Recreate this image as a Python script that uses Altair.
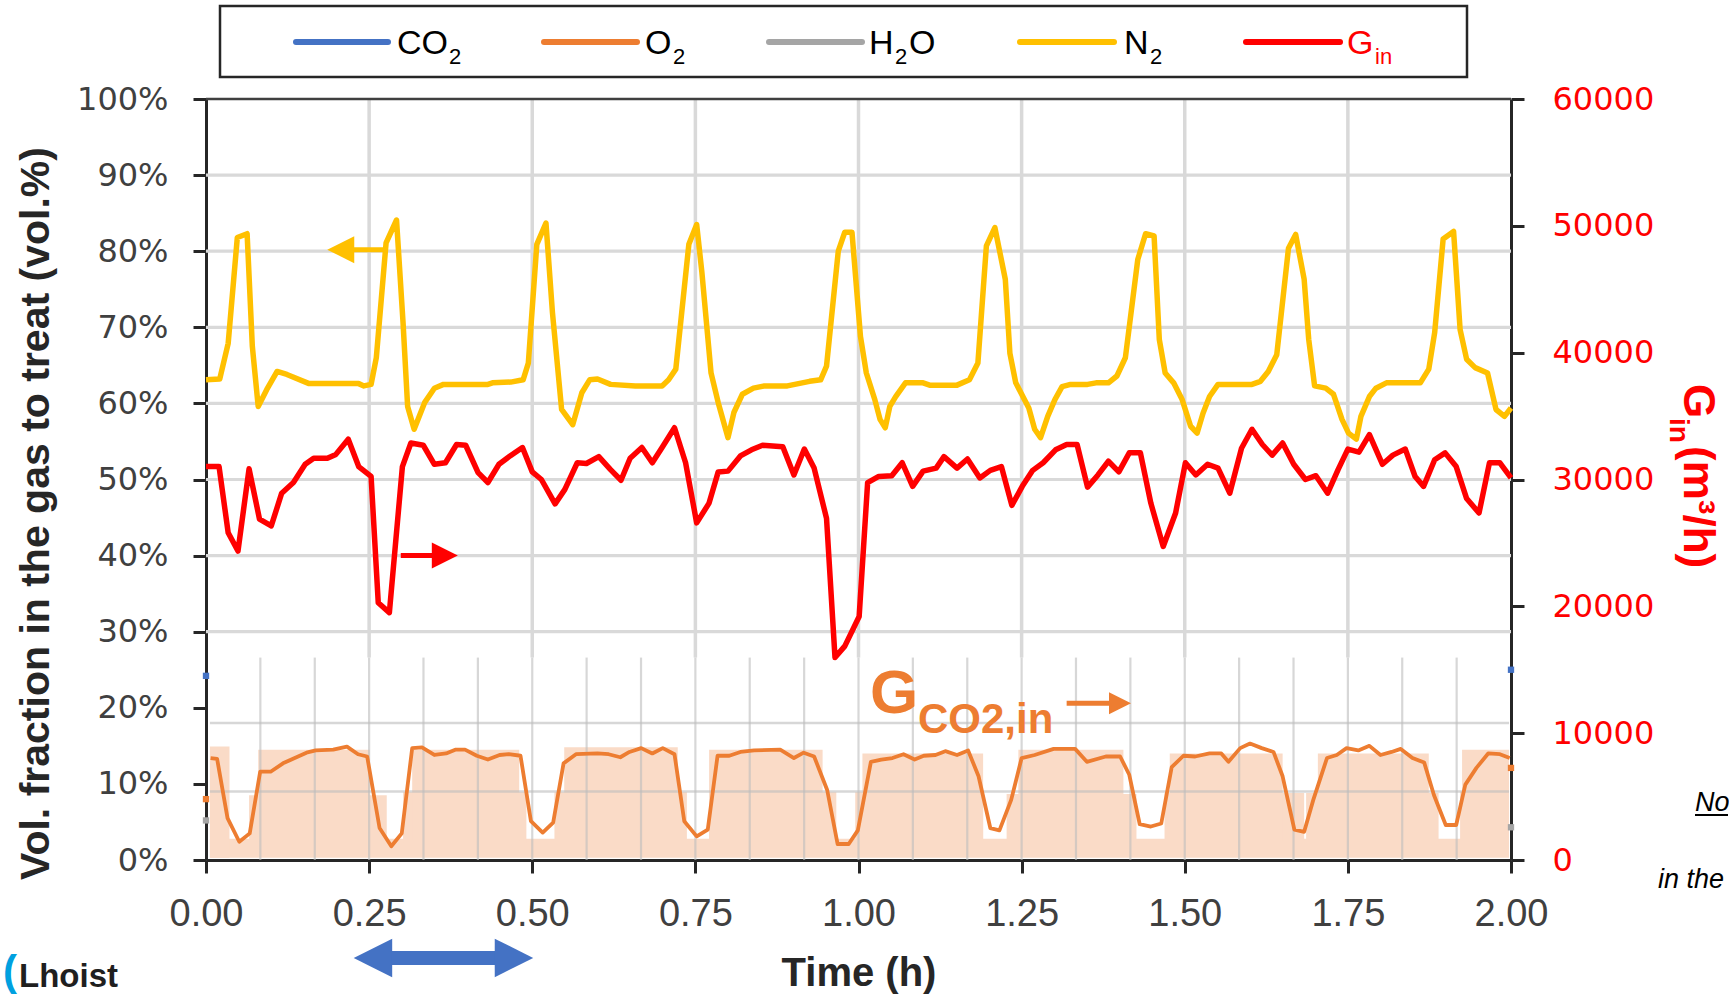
import altair as alt
import pandas as pd

# ---------------- data ----------------
# N2 volume fraction (%), (time h, value)
N2_POINTS = [
    (0.000, 63.1), (0.021, 63.2), (0.034, 67.9), (0.048, 81.8), (0.063, 82.3), (0.071, 67.5),
    (0.080, 59.6), (0.093, 61.8), (0.109, 64.2), (0.124, 63.8), (0.158, 62.6), (0.234, 62.6),
    (0.242, 62.3), (0.253, 62.5), (0.261, 66.0), (0.276, 81.1), (0.292, 84.1), (0.302, 70.6),
    (0.309, 59.6), (0.319, 56.6), (0.335, 60.1), (0.350, 62.0), (0.364, 62.5), (0.432, 62.5),
    (0.439, 62.7), (0.467, 62.8), (0.486, 63.1), (0.494, 65.3), (0.507, 80.9), (0.521, 83.7),
    (0.531, 71.9), (0.545, 59.2), (0.562, 57.2), (0.576, 61.4), (0.588, 63.1), (0.600, 63.2),
    (0.620, 62.5), (0.658, 62.3), (0.699, 62.3), (0.709, 63.1), (0.720, 64.5), (0.740, 80.9),
    (0.752, 83.5), (0.760, 77.2), (0.774, 64.0), (0.785, 60.1), (0.800, 55.5), (0.809, 58.8),
    (0.822, 61.2), (0.839, 62.0), (0.856, 62.3), (0.891, 62.3), (0.925, 62.9), (0.942, 63.1),
    (0.951, 64.9), (0.969, 80.0), (0.979, 82.5), (0.990, 82.5), (1.003, 68.8), (1.012, 64.0),
    (1.025, 60.5), (1.033, 57.9), (1.041, 56.8), (1.048, 59.6), (1.057, 60.9), (1.072, 62.7),
    (1.099, 62.7), (1.109, 62.4), (1.151, 62.4), (1.170, 63.1), (1.183, 65.3), (1.196, 80.7),
    (1.209, 83.1), (1.225, 76.3), (1.232, 66.6), (1.241, 62.7), (1.261, 59.4), (1.270, 56.6),
    (1.279, 55.5), (1.290, 58.3), (1.301, 60.5), (1.312, 62.2), (1.325, 62.5), (1.351, 62.5),
    (1.364, 62.7), (1.383, 62.7), (1.396, 63.6), (1.409, 66.0), (1.428, 78.9), (1.440, 82.3),
    (1.453, 82.0), (1.461, 68.4), (1.470, 64.0), (1.483, 62.7), (1.496, 60.5), (1.509, 57.0),
    (1.519, 56.1), (1.528, 58.7), (1.538, 60.9), (1.551, 62.5), (1.603, 62.5), (1.616, 62.9),
    (1.628, 64.2), (1.641, 66.4), (1.659, 80.4), (1.670, 82.2), (1.683, 76.3), (1.690, 68.4),
    (1.699, 62.3), (1.716, 62.0), (1.728, 61.2), (1.741, 57.9), (1.751, 56.1), (1.763, 55.3),
    (1.770, 58.3), (1.783, 60.9), (1.793, 62.0), (1.809, 62.7), (1.861, 62.7), (1.874, 64.5),
    (1.883, 69.3), (1.896, 81.6), (1.912, 82.6), (1.922, 69.7), (1.932, 65.8), (1.945, 64.7),
    (1.964, 64.0), (1.977, 59.2), (1.990, 58.3), (2.000, 59.4),
]

# G_in gas flow (m3/h), (time h, value)
GIN_POINTS = [
    (0.000, 31020), (0.020, 31020), (0.034, 25800), (0.049, 24360), (0.066, 30840), (0.082, 26880),
    (0.100, 26340), (0.116, 28920), (0.134, 29760), (0.152, 31200), (0.165, 31680), (0.186, 31680),
    (0.199, 31980), (0.218, 33180), (0.234, 31020), (0.253, 30240), (0.264, 20280), (0.281, 19500),
    (0.301, 31020), (0.314, 32880), (0.333, 32700), (0.350, 31200), (0.367, 31320), (0.384, 32760),
    (0.398, 32700), (0.417, 30540), (0.432, 29760), (0.449, 31200), (0.466, 31860), (0.485, 32520),
    (0.500, 30600), (0.514, 30000), (0.535, 28080), (0.550, 29220), (0.569, 31320), (0.583, 31260),
    (0.602, 31800), (0.620, 30780), (0.636, 29940), (0.650, 31680), (0.668, 32520), (0.684, 31320),
    (0.699, 32520), (0.718, 34080), (0.735, 31320), (0.752, 26580), (0.771, 28140), (0.785, 30600),
    (0.800, 30660), (0.819, 31860), (0.836, 32340), (0.853, 32700), (0.884, 32580), (0.901, 30360),
    (0.917, 32400), (0.932, 30900), (0.951, 26940), (0.964, 15960), (0.979, 16860), (1.001, 19200),
    (1.014, 29760), (1.031, 30240), (1.051, 30300), (1.067, 31320), (1.083, 29460), (1.099, 30660),
    (1.119, 30900), (1.131, 31800), (1.151, 30900), (1.167, 31620), (1.186, 30120), (1.202, 30720),
    (1.219, 31020), (1.235, 27960), (1.251, 29460), (1.267, 30720), (1.283, 31320), (1.302, 32340),
    (1.319, 32760), (1.335, 32760), (1.351, 29400), (1.367, 30360), (1.383, 31440), (1.399, 30600),
    (1.415, 32100), (1.432, 32100), (1.448, 28140), (1.467, 24720), (1.486, 27360), (1.501, 31320),
    (1.517, 30360), (1.535, 31200), (1.551, 30900), (1.569, 28920), (1.587, 32460), (1.603, 33960),
    (1.619, 32760), (1.634, 31920), (1.650, 32880), (1.667, 31200), (1.685, 30000), (1.701, 30300),
    (1.719, 28920), (1.735, 30780), (1.750, 32400), (1.767, 32160), (1.783, 33540), (1.803, 31200),
    (1.819, 31920), (1.838, 32400), (1.853, 30240), (1.866, 29460), (1.883, 31560), (1.899, 32100),
    (1.916, 31020), (1.932, 28500), (1.951, 27360), (1.967, 31320), (1.983, 31320), (2.000, 30120),
]

# G_CO2,in gas flow (m3/h), (time h, value)
GCO2_POINTS = [
    (0.007, 8040), (0.017, 7980), (0.033, 3300), (0.051, 1440), (0.067, 2100), (0.083, 6960),
    (0.099, 6960), (0.118, 7620), (0.136, 8040), (0.154, 8460), (0.168, 8640), (0.195, 8700),
    (0.216, 8940), (0.233, 8340), (0.247, 8160), (0.266, 2520), (0.284, 1080), (0.300, 2100),
    (0.316, 8820), (0.331, 8880), (0.350, 8280), (0.368, 8400), (0.382, 8700), (0.397, 8700),
    (0.415, 8220), (0.432, 7920), (0.450, 8280), (0.464, 8340), (0.482, 8220), (0.498, 3060),
    (0.516, 2160), (0.532, 2940), (0.548, 7620), (0.567, 8340), (0.600, 8400), (0.617, 8340),
    (0.635, 8100), (0.649, 8520), (0.667, 8820), (0.684, 8400), (0.700, 8820), (0.718, 8340),
    (0.733, 3060), (0.752, 1860), (0.769, 2400), (0.784, 8220), (0.802, 8220), (0.819, 8520),
    (0.840, 8640), (0.880, 8700), (0.901, 8040), (0.916, 8460), (0.932, 8160), (0.952, 5520),
    (0.968, 1260), (0.985, 1260), (0.999, 2340), (1.019, 7740), (1.035, 7920), (1.052, 8040),
    (1.069, 8340), (1.086, 7920), (1.100, 8220), (1.118, 8280), (1.133, 8580), (1.151, 8280),
    (1.168, 8640), (1.184, 6600), (1.202, 2520), (1.216, 2340), (1.234, 4740), (1.250, 8040),
    (1.270, 8280), (1.299, 8760), (1.332, 8760), (1.350, 7740), (1.379, 8160), (1.401, 8160),
    (1.415, 6720), (1.431, 2820), (1.448, 2640), (1.464, 2880), (1.480, 7320), (1.498, 8220),
    (1.516, 8160), (1.538, 8400), (1.556, 8400), (1.567, 7740), (1.585, 8820), (1.600, 9180),
    (1.618, 8820), (1.636, 8520), (1.650, 6600), (1.668, 2400), (1.683, 2220), (1.697, 4740),
    (1.718, 8040), (1.733, 8280), (1.748, 8820), (1.766, 8640), (1.783, 9000), (1.800, 8280),
    (1.817, 8520), (1.831, 8760), (1.849, 8040), (1.867, 7680), (1.882, 5100), (1.900, 2760),
    (1.916, 2760), (1.930, 5940), (1.947, 7260), (1.965, 8400), (1.983, 8340), (1.998, 8040),
]

# shaded blocks behind G_CO2,in: (start h, end h, low m3/h, high m3/h)
SHADE_BLOCKS = [
    (0.006, 1.997, 180, 1680),
    (0.066, 0.277, 1380, 5100), (0.302, 0.491, 1380, 5340), (0.534, 0.737, 1560, 5340),
    (0.771, 0.966, 1380, 5340), (0.995, 1.191, 1380, 5340), (1.227, 1.426, 1500, 5200),
    (1.469, 1.683, 1500, 5280), (1.686, 1.889, 1500, 5280), (1.922, 1.947, 1500, 5400),
    (0.006, 0.036, 180, 8940), (0.080, 0.251, 1560, 8700), (0.316, 0.480, 1560, 8700),
    (0.549, 0.723, 1680, 8880), (0.771, 0.945, 1560, 8700), (1.006, 1.191, 1560, 8400),
    (1.245, 1.406, 1560, 8700), (1.477, 1.650, 1560, 8400), (1.704, 1.874, 1560, 8400),
    (1.925, 1.997, 1560, 8700),
]

# the CO2 / O2 / H2O series are only visible at the two ends of the time axis (%)
EDGE_TIMES = [0.0, 2.0]
CO2_EDGE = [24.2, 25.0]
O2_EDGE = [8.0, 12.1]
H2O_EDGE = [5.2, 4.3]

X_TICKS = [0.0, 0.25, 0.5, 0.75, 1.0, 1.25, 1.5, 1.75, 2.0]
PCT_TICKS = [0, 10, 20, 30, 40, 50, 60, 70, 80, 90, 100]
GIN_TICKS = [0, 10000, 20000, 30000, 40000, 50000, 60000]
MAIN_H_GRID = [30, 40, 50, 60, 70, 80, 90]
INSET_TOP = 26.6
INSET_V_GRID = [round(k / 12, 4) for k in range(1, 24)]
INSET_H_GRID = [9.0, 18.0]

# ---------------- styling ----------------
W, H = 1305, 761
C_CO2, C_O2, C_H2O, C_N2, C_GIN = "#4472C4", "#ED7D31", "#A5A5A5", "#FFC000", "#FF0000"
DARK = "#262626"
GRID = "#D9D9D9"
PEACH = "#FADBC7"
SANS = "Liberation Sans"

XS = alt.Scale(domain=[0, 2], nice=False, zero=False)
PS = alt.Scale(domain=[0, 100], nice=False)
GS = alt.Scale(domain=[0, 60000], nice=False)

X_AXIS = alt.Axis(
    values=X_TICKS, format=".2f", labelFont=SANS, labelFontSize=38, labelColor="#404040",
    labelPadding=22, labelFlush=False, labelOverlap=False, tickSize=13, tickWidth=3,
    tickColor=DARK, domainColor=DARK, domainWidth=3, grid=False,
    title="Time (h)", titleFont=SANS, titleFontSize=40, titleFontWeight="bold", titleColor=DARK,
    titleY=125, titleBaseline="alphabetic")


def xe(field):
    return alt.X(f"{field}:Q", scale=XS, axis=X_AXIS)


def one():
    return alt.Chart(pd.DataFrame({"k": [0]}))


def txt(s, x, y, size, color="#000000", weight="normal", angle=0, style="normal", font=SANS):
    return one().mark_text(
        text=s, fontSize=size, color=color, fontWeight=weight, font=font, angle=angle,
        fontStyle=style, align="left", baseline="alphabetic"
    ).encode(x=alt.value(x), y=alt.value(y))


layers = []

# main grid (above inset) and top border
mv = pd.DataFrame({"t": X_TICKS[1:-1], "y0": INSET_TOP, "y1": 100})
layers.append(alt.Chart(mv).mark_rule(color=GRID, strokeWidth=3.5).encode(
    x=xe("t"), y=alt.Y("y0:Q", scale=PS, axis=None), y2="y1:Q"))
mh = pd.DataFrame({"v": MAIN_H_GRID, "t0": 0.0, "t1": 2.0})
layers.append(alt.Chart(mh).mark_rule(color=GRID, strokeWidth=3.2).encode(
    x=xe("t0"), x2="t1:Q", y=alt.Y("v:Q", scale=PS, axis=None)))
top = pd.DataFrame({"v": [100], "t0": [0.0], "t1": [2.0]})
layers.append(alt.Chart(top).mark_rule(color="#404040", strokeWidth=2.5).encode(
    x=xe("t0"), x2="t1:Q", y=alt.Y("v:Q", scale=PS, axis=None)))

# inset: shading, grid, G_CO2,in line
sh = pd.DataFrame(SHADE_BLOCKS, columns=["t0", "t1", "v0", "v1"])
layers.append(alt.Chart(sh).mark_rect(color=PEACH, opacity=1).encode(
    x=xe("t0"), x2="t1:Q", y=alt.Y("v0:Q", scale=GS, axis=None), y2="v1:Q"))
iv = pd.DataFrame({"t": INSET_V_GRID, "y0": 0.0, "y1": INSET_TOP})
layers.append(alt.Chart(iv).mark_rule(color="#BDBDBD", opacity=0.6, strokeWidth=2.2).encode(
    x=xe("t"), y=alt.Y("y0:Q", scale=PS, axis=None), y2="y1:Q"))
ih = pd.DataFrame({"v": INSET_H_GRID, "t0": 0.006, "t1": 1.997})
layers.append(alt.Chart(ih).mark_rule(color="#BDBDBD", opacity=0.6, strokeWidth=2.5).encode(
    x=xe("t0"), x2="t1:Q", y=alt.Y("v:Q", scale=PS, axis=None)))
gco2 = pd.DataFrame(GCO2_POINTS, columns=["t", "v"])
layers.append(alt.Chart(gco2).mark_line(color=C_O2, strokeWidth=3.8, strokeJoin="round").encode(
    x=xe("t"), y=alt.Y("v:Q", scale=GS, axis=None)))

# N2 line with the left axis
n2 = pd.DataFrame(N2_POINTS, columns=["t", "v"])
y_axis = alt.Axis(
    orient="left", values=PCT_TICKS, labelExpr="datum.value + '%'", labelFont="DejaVu Sans",
    labelFontSize=32, labelColor="#404040", labelPadding=25, labelOverlap=False, tickSize=13,
    tickWidth=3, tickColor=DARK, domainColor=DARK, domainWidth=3, grid=False,
    title="Vol. fraction in the gas to treat (vol.%)", titleFont=SANS, titleFontSize=41,
    titleFontWeight="bold", titleColor=DARK, titleX=-170, titleY=414, titleAngle=270,
    titleAlign="center", titleBaseline="middle")
layers.append(alt.Chart(n2).mark_line(color=C_N2, strokeWidth=5.5, strokeJoin="round").encode(
    x=xe("t"), y=alt.Y("v:Q", scale=PS, axis=y_axis)))

# G_in line with the right axis
gin = pd.DataFrame(GIN_POINTS, columns=["t", "v"])
r_axis = alt.Axis(
    orient="right", values=GIN_TICKS, format="d", labelFont="DejaVu Sans", labelFontSize=32,
    labelColor=C_GIN, labelPadding=28, labelOverlap=False, tickSize=13, tickWidth=3,
    tickColor=DARK, domainColor=DARK, domainWidth=3, grid=False, title=None)
layers.append(alt.Chart(gin).mark_line(color=C_GIN, strokeWidth=5.5, strokeJoin="round").encode(
    x=xe("t"), y=alt.Y("v:Q", scale=GS, axis=r_axis)))

# edge dots of CO2 / O2 / H2O
for vals, col in [(CO2_EDGE, C_CO2), (O2_EDGE, C_O2), (H2O_EDGE, C_H2O)]:
    d = pd.DataFrame({"t": EDGE_TIMES, "v": vals})
    layers.append(alt.Chart(d).mark_square(color=col, size=40, opacity=1).encode(
        x=xe("t"), y=alt.Y("v:Q", scale=PS, axis=None)))

# arrows (time h, % of left axis)
LEFT_TRI = "M -1 0 L 1 -1 L 1 1 Z"
RIGHT_TRI = "M 1 0 L -1 -1 L -1 1 Z"


def arrow(t0, t1, head_t, y, color, width, head_shape, head_size):
    shaft = pd.DataFrame({"t0": [t0], "t1": [t1], "v": [y]})
    head = pd.DataFrame({"t": [head_t], "v": [y]})
    return [
        alt.Chart(shaft).mark_rule(color=color, strokeWidth=width, strokeCap="butt").encode(
            x=xe("t0"), x2="t1:Q", y=alt.Y("v:Q", scale=PS, axis=None)),
        alt.Chart(head).mark_point(shape=head_shape, filled=True, size=head_size, color=color,
                                   opacity=1, strokeWidth=0).encode(
            x=xe("t"), y=alt.Y("v:Q", scale=PS, axis=None)),
    ]


layers += arrow(0.225, 0.278, 0.2065, 80.2, C_N2, 5, LEFT_TRI, 729)
layers += arrow(0.2985, 0.350, 0.366, 40.0, C_GIN, 5, RIGHT_TRI, 676)
layers += arrow(1.319, 1.390, 1.4008, 20.6, C_O2, 5, RIGHT_TRI, 484)
layers += arrow(0.2849, 0.4429, 0.2558, -12.87, C_CO2, 14, LEFT_TRI, 1482)
layers += arrow(0.2849, 0.4429, 0.472, -12.87, C_CO2, 14, RIGHT_TRI, 1482)

# G_CO2,in label
layers.append(txt("G", 664, 614, 62, C_O2, "bold"))
layers.append(txt("CO2,in", 712, 634, 42, C_O2, "bold"))

# right axis title G_in (m3/h)
layers.append(txt("G", 1478, 285, 44, C_GIN, "bold", angle=90))
layers.append(txt("in", 1464, 319, 28, C_GIN, "bold", angle=90))
layers.append(txt("(m³/h)", 1478, 347, 44, C_GIN, "bold", angle=90))

# legend box
layers.append(one().mark_rect(fillOpacity=0, stroke=DARK, strokeWidth=2.5).encode(
    x=alt.value(14), x2=alt.value(1261), y=alt.value(-93), y2=alt.value(-22)))
for x0, x1, col in [(90, 182, C_CO2), (338, 431, C_O2), (563, 656, C_H2O),
                    (814, 908, C_N2), (1040, 1134, C_GIN)]:
    layers.append(one().mark_rule(color=col, strokeWidth=6, strokeCap="round").encode(
        x=alt.value(x0), x2=alt.value(x1), y=alt.value(-57)))
for s, x, y, size, col in [
    ("CO", 191, -45, 34, "#000000"), ("2", 243, -35, 22, "#000000"),
    ("O", 439, -45, 34, "#000000"), ("2", 467, -35, 22, "#000000"),
    ("H", 663, -45, 34, "#000000"), ("2", 689, -35, 22, "#000000"), ("O", 703, -45, 34, "#000000"),
    ("N", 918, -45, 34, "#000000"), ("2", 944, -35, 22, "#000000"),
    ("G", 1141, -45, 34, C_GIN), ("in", 1169, -35, 22, C_GIN),
]:
    layers.append(txt(s, x, y, size, col))

# slide fragments: logo and cut-off note
layers.append(txt("(", -203, 886, 42, "#00A0DF", "bold"))
layers.append(txt("Lhoist", -187, 888, 33, "#1F1F1F", "bold"))
layers.append(txt("No", 1489, 712, 27, "#000000", style="italic"))
layers.append(one().mark_rule(color="#000000", strokeWidth=2).encode(
    x=alt.value(1489), x2=alt.value(1522), y=alt.value(716)))
layers.append(txt("in the", 1452, 789, 27, "#000000", style="italic"))

chart = alt.layer(*layers).resolve_scale(y="independent").properties(
    width=W, height=H,
    autosize=alt.AutoSizeParams(type="none"),
    padding={"left": 206, "top": 99, "right": 218, "bottom": 138},
    background="white",
).configure_view(stroke=None)

chart.save("out.html", embed_options={"renderer": "svg", "actions": False})
